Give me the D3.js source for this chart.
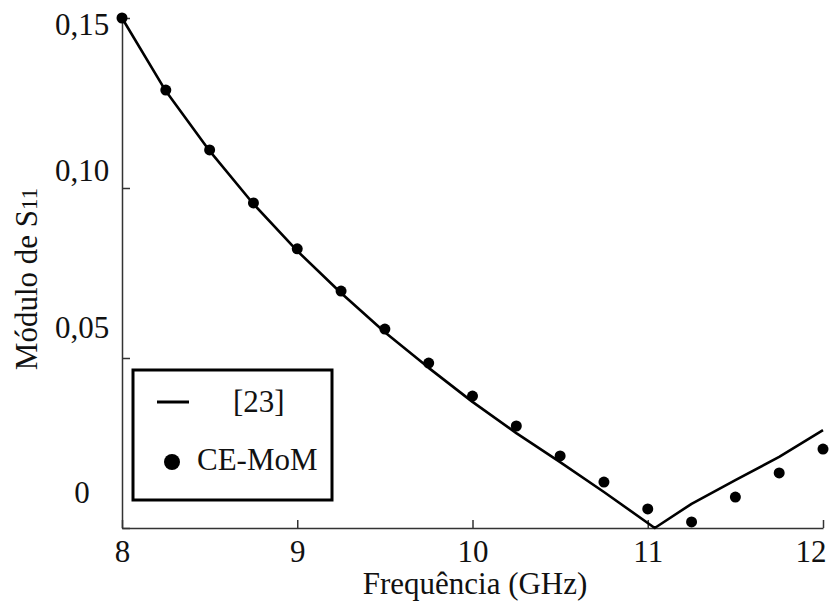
<!DOCTYPE html>
<html>
<head>
<meta charset="utf-8">
<script src="https://cdn.jsdelivr.net/npm/d3@7"></script>
<style>
  body { margin: 0; background: #fff; }
  text { font-family: "Liberation Serif", "Times New Roman", serif; fill: #111; }
</style>
</head>
<body>
<script>
// reference curve [23]
var refFreq = [8, 8.25, 8.5, 8.75, 9, 9.25, 9.5, 9.75, 10, 10.25, 10.5, 10.75, 11.04, 11.25, 11.5, 11.75, 12];
var refS11  = [0.150, 0.1285, 0.1109, 0.0953, 0.0815, 0.0691, 0.0576, 0.0471, 0.0371, 0.0279, 0.0194, 0.0106, 0.0, 0.0071, 0.0141, 0.0209, 0.0288];

// CE-MoM points
var momFreq = [8, 8.25, 8.5, 8.75, 9, 9.25, 9.5, 9.75, 10, 10.25, 10.5, 10.75, 11, 11.25, 11.5, 11.75, 12];
var momS11  = [0.150, 0.1288, 0.1112, 0.0956, 0.0821, 0.0697, 0.0585, 0.0485, 0.0388, 0.0300, 0.0212, 0.0135, 0.0056, 0.0018, 0.0091, 0.0162, 0.0232];

var xTicks = [8, 9, 10, 11, 12];
var yTicks = [0, 0.05, 0.10, 0.15];
var legendLabels = ["[23]", "CE-MoM"];

var width = 829, height = 608;

var svg = d3.select("body").append("svg")
    .attr("width", width)
    .attr("height", height);

svg.append("rect").attr("width", width).attr("height", height).attr("fill", "#fff");

var x = d3.scaleLinear().domain([8, 12]).range([122, 823]);
var y = d3.scaleLinear().domain([0, 0.15]).range([528, 18]);

var fmt = function(d) { return d === 0 ? "0" : d.toFixed(2).replace(".", ","); };

// y axis
var gy = svg.append("g")
    .attr("transform", "translate(" + x(8) + ",0)")
    .call(d3.axisLeft(y).tickValues(yTicks).tickSize(-8).tickSizeOuter(0).tickFormat(fmt));
gy.select(".domain").attr("stroke", "#333").attr("stroke-width", 1.5);
gy.selectAll(".tick line").attr("stroke", "#333").attr("stroke-width", 1.5);
// labels sit a little above their ticks in the original
var yShift = {0: -36, 0.05: -31, 0.1: -18, 0.15: 6};
gy.selectAll(".tick text")
    .attr("x", -40)
    .attr("dy", function(d) { return (yShift[d] || 0) + 10; })
    .attr("text-anchor", "middle")
    .style("font-size", "31px")
    .style("font-family", "Liberation Serif");

// x axis
var gx = svg.append("g")
    .attr("transform", "translate(0," + y(0) + ")")
    .call(d3.axisBottom(x).tickValues(xTicks).tickSize(-8).tickSizeOuter(0).tickFormat(d3.format("d")));
gx.select(".domain").attr("stroke", "#333").attr("stroke-width", 1.5);
gx.selectAll(".tick line").attr("stroke", "#333").attr("stroke-width", 1.5);
gx.selectAll(".tick text")
    .attr("y", 34)
    .attr("dy", 0)
    .style("font-size", "31px")
    .style("font-family", "Liberation Serif");
// last label is pulled inside the frame
gx.selectAll(".tick text")
    .filter(function(d) { return d === 12; })
    .attr("text-anchor", "end")
    .attr("x", 3);

// axis titles
svg.append("text")
    .attr("x", 475)
    .attr("y", 594)
    .attr("text-anchor", "middle")
    .style("font-size", "31px")
    .text("Frequência (GHz)");

var yt = svg.append("text")
    .attr("transform", "translate(37,279)rotate(-90)")
    .attr("text-anchor", "middle")
    .style("font-size", "31px");
yt.append("tspan").text("Módulo de S");
yt.append("tspan").style("font-size", "23px").text("11");

// reference line
var refData = refFreq.map(function(f, i) { return {f: f, v: refS11[i]}; });
var line = d3.line()
    .x(function(d) { return x(d.f); })
    .y(function(d) { return y(d.v); });

svg.append("path")
    .datum(refData)
    .attr("fill", "none")
    .attr("stroke", "#000")
    .attr("stroke-width", 2.6)
    .attr("stroke-linejoin", "round")
    .attr("d", line);

// CE-MoM dots
var momData = momFreq.map(function(f, i) { return {f: f, v: momS11[i]}; });
svg.selectAll("circle.mom")
    .data(momData)
  .enter().append("circle")
    .attr("class", "mom")
    .attr("cx", function(d) { return x(d.f); })
    .attr("cy", function(d) { return y(d.v); })
    .attr("r", 5.5)
    .attr("fill", "#000");

// legend
var lg = svg.append("g").attr("transform", "translate(133,370)");
lg.append("rect")
    .attr("width", 199)
    .attr("height", 130)
    .attr("fill", "#fff")
    .attr("stroke", "#000")
    .attr("stroke-width", 3);
lg.append("line")
    .attr("x1", 24).attr("x2", 56)
    .attr("y1", 32).attr("y2", 32)
    .attr("stroke", "#000")
    .attr("stroke-width", 3);
lg.append("text")
    .attr("x", 100).attr("y", 42)
    .style("font-size", "31px")
    .text(legendLabels[0]);
lg.append("circle")
    .attr("cx", 39).attr("cy", 92)
    .attr("r", 8)
    .attr("fill", "#000");
lg.append("text")
    .attr("x", 64).attr("y", 100)
    .style("font-size", "31px")
    .text(legendLabels[1]);
</script>
</body>
</html>
